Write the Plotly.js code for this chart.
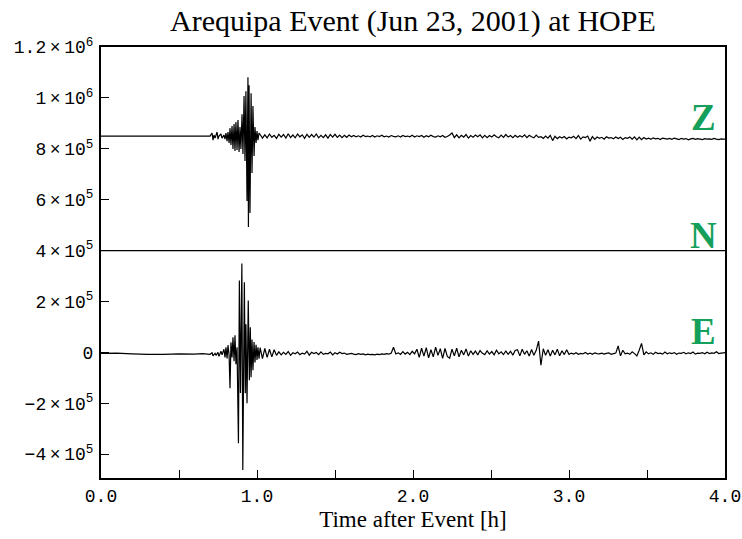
<!DOCTYPE html>
<html>
<head>
<meta charset="utf-8">
<script src="https://cdn.plot.ly/plotly-3.0.1.min.js"></script>
<style>
  html, body { margin: 0; padding: 0; background: #fff; }
  #chart { width: 742px; height: 539px; }
</style>
</head>
<body>
<div id="chart"></div>
<script>
// Three-component record, Arequipa event (Jun 23, 2001), station HOPE.
// Times in hours after the event, amplitudes in thousands of counts
// relative to each component's plotting offset.

const componentNames = ['Z', 'N', 'E'];
const componentOffsets = [850000, 400000, 0];

// Z component: quiet lead-in, then the main arrivals
const zPreT = [0, 0.35, 0.699];
const zPreV = [0, 0, 0];
const zEventT = [0.712, 0.718, 0.724, 0.731, 0.744, 0.750, 0.756, 0.769, 0.776, 0.788,
  0.795, 0.801, 0.808, 0.814, 0.821, 0.827, 0.833, 0.840, 0.846, 0.853,
  0.859, 0.865, 0.872, 0.878, 0.885, 0.891, 0.897, 0.904, 0.910, 0.917,
  0.923, 0.929, 0.936, 0.942, 0.945, 0.949, 0.955, 0.962, 0.968, 0.974,
  0.981, 0.987, 0.994, 1.000, 1.006, 1.013];
const zEventV = [12, -16, 4, -8, 16, -12, 0, 8, -8, 4,
  -12, 12, -20, 16, -27, 31, -35, 39, -51, 47,
  -59, 55, -55, 63, -63, 35, -51, 86, -71, 157,
  -98, 176, -255, 231, -357, 200, -302, 168, -145, 118,
  -78, 35, -27, 20, -16, 12];
// Z coda / background, sampled every 0.015 h from 1.02 h
const zCodaV = [
  6, -8, 5, -7, 8, -5, 3, -9, 7, -4, 6, -8, 9, -6, 4, -7, 8, -3, 5, -9,
  7, -5, 6, -4, 8, -7, 3, -6, 5, -8, 6, -4, 7, -5, 4, -6, 3, -5, 4, -3,
  2, -3, 1, -4, 3, -2, 0, -3, 2, -4, 1, -2, 3, -3, 0, -4, 2, -1, -3, 1,
  -4, 2, -2, 0, -3, 3, -4, 1, -2, 2, -5, 1, -3, 3, -2, -4, 1, -3, 2, -5,
  -2, 4, 12, -6, 5, -7, 3, -4, 6, -8, 2, -5, 4, -3, 5, -7, 3, -6, 2, -4,
  5, -3, -7, 4, -5, 6, -4, 2, -6, 3, -5, 1, -4, 5, -6, 3, -3, -7, 4, -5,
  -2, -9, 0, -8, 3, -18, -1, -10, -3, -8, -2, -11, -4, -7, -1, -10, 2, -12, -3, -6,
  0, -20, -2, -13, -4, -9, -5, -12, -3, -8, -6, -11, -4, -10, -5, -13, -6, -9, -4, -12,
  -3, -15, -4, -14, -6, -12, -8, -13, -7, -11, -9, -14, -8, -10, -12, -9, -13, -8, -11, -14,
  -9, -12, -10, -15, -11, -9, -13, -10, -12, -14, -10, -12, -11, -13, -9, -12, -14, -11, -12, -12
];

// N component: flat trace
const nT = [0, 1, 2, 3, 4];
const nV = [0, 0, 0, 0, 0];

// E component
const ePreT = [0, 0.1, 0.2, 0.3, 0.4, 0.5, 0.6, 0.65, 0.699];
const ePreV = [-4, -3, -6, -8, -8, -6, -7, -5, -8];
const eEventT = [0.712, 0.718, 0.731, 0.737, 0.750, 0.756, 0.769, 0.776, 0.788, 0.795,
  0.801, 0.808, 0.814, 0.821, 0.827, 0.833, 0.840, 0.846, 0.853, 0.859,
  0.865, 0.872, 0.881, 0.887, 0.894, 0.903, 0.909, 0.919, 0.925, 0.929,
  0.936, 0.944, 0.951, 0.957, 0.962, 0.968, 0.974, 0.981, 0.987, 0.994,
  1.000, 1.006, 1.013];
const eEventV = [-2, -14, -4, -12, 0, -16, 4, -10, 12, -20,
  20, -24, 28, -10, -141, 39, -20, 59, -35, 67,
  -47, 20, -357, 282, -160, 349, -463, 275, -161, 110,
  -200, 204, -110, 98, -98, 50, -70, 40, -40, 30,
  -30, 20, -25];
const eCodaV = [
  18, -25, 15, -20, 12, -18, 10, -12,
  2, -10, 0, -8, 3, -12, -2, -6, 1, -9, -3, -7, 4, -11, 0, -5, -1, -9, 2, -8,
  -4, -6, 1, -10, -2, -7, 0, -5, -3, -8, -6, -4, -7, -9, -5, -8, -6, -10, -7, -9,
  -8, -10, -7, -9, -6, -8, -5, -7, -4,
  20, -6,
  -2, -8, 3, -7, 0, -9, 4, -6,
  12, -20, 16, -15, 18, -22, 10, -18, 20, -12, 14, -24, 15, -16,
  -23, 12, -14, 16, -18, 8, -10, 13, -15, 6,
  -8, 5, -10, 7, -4, -9, 6, -7, 3, -10, 8, -6, 2, -9, 5, -8, 4, -11, 7,
  10, -14, 12, -8, 6, -15, 11, -12, 8,
  44, -51,
  14, -12, 10, -15, 8, -10, 12, -14, 6, -9, 10, -8,
  -3, -7, -2, -8, -4, -6, -1, -7, -3, -8, -2, -5, -6, -3, -7, -4, -2, -8, -5, -3,
  25, -14, 8, -6,
  -3, -8, 2, -5,
  -14, 8, 35,
  -10, 2, -6, -2, -8, 0, -5, -3, -7, 1, -6, -2, -5, -1, -8, -3, -4, 0, -6, -2,
  -5, 1, -7, -3, -4, -1, -6, 0, -5, -2, -4, 2, -5, -3, -2, -1
];
const codaStart = 1.02;   // h
const codaStep = 0.015;   // h per sample

// Axis ticks
const xTickVals = [0, 0.5, 1, 1.5, 2, 2.5, 3, 3.5, 4];
const xTickText = ['0.0', '', '1.0', '', '2.0', '', '3.0', '', '4.0'];
const yTickVals = [-400000, -200000, 0, 200000, 400000, 600000, 800000, 1000000, 1200000];
const TIMES = '\u2009\u00d7\u2009';
const yTickText = ['\u22124' + TIMES + '10<sup>5</sup>', '\u22122' + TIMES + '10<sup>5</sup>', '0',
  '2' + TIMES + '10<sup>5</sup>', '4' + TIMES + '10<sup>5</sup>', '6' + TIMES + '10<sup>5</sup>',
  '8' + TIMES + '10<sup>5</sup>', '1' + TIMES + '10<sup>6</sup>', '1.2' + TIMES + '10<sup>6</sup>'];

function codaTimes(values) {
  return values.map((_, i) => +(codaStart + i * codaStep).toFixed(4));
}

function buildTrace(tParts, vParts, offset) {
  const x = [].concat(...tParts);
  const y = [].concat(...vParts).map(v => offset + v * 1000);
  return {
    x: x, y: y, type: 'scatter', mode: 'lines',
    line: { color: '#000', width: 1.2, simplify: false },
    hoverinfo: 'skip', showlegend: false
  };
}

const traces = [
  buildTrace([zPreT, zEventT, codaTimes(zCodaV)], [zPreV, zEventV, zCodaV], componentOffsets[0]),
  buildTrace([nT], [nV], componentOffsets[1]),
  buildTrace([ePreT, eEventT, codaTimes(eCodaV)], [ePreV, eEventV, eCodaV], componentOffsets[2])
];

// Component letters beside each trace
const labelY = [921000, 459000, 82000];
const annotations = componentNames.map((name, k) => ({
  x: 3.865, y: labelY[k], xref: 'x', yref: 'y',
  text: '<b>' + name + '</b>', showarrow: false,
  font: { family: 'Liberation Serif, serif', size: 37, color: '#14a05a' }
}));

const tickFont = { family: 'Liberation Mono, monospace', size: 18, color: '#000' };

const layout = {
  width: 742, height: 539,
  margin: { l: 101, r: 17, t: 47, b: 61 },
  paper_bgcolor: '#fff', plot_bgcolor: '#fff',
  title: {
    text: 'Arequipa Event (Jun 23, 2001) at HOPE',
    font: { family: 'Liberation Serif, serif', size: 30, color: '#000' },
    x: 0.5565, xanchor: 'center', y: 0.962, yanchor: 'middle'
  },
  xaxis: {
    range: [0, 4], tickvals: xTickVals, ticktext: xTickText,
    ticks: 'inside', ticklen: 8, tickwidth: 1, tickcolor: '#000',
    showline: true, linewidth: 2, linecolor: '#000', mirror: true,
    showgrid: false, zeroline: false, tickfont: tickFont,
    title: { text: 'Time after Event [h]', standoff: 4,
      font: { family: 'Liberation Serif, serif', size: 23, color: '#000' } }
  },
  yaxis: {
    range: [-494000, 1200000], tickvals: yTickVals, ticktext: yTickText,
    ticks: 'inside', ticklen: 8, tickwidth: 1, tickcolor: '#000',
    showline: true, linewidth: 2, linecolor: '#000', mirror: true,
    showgrid: false, zeroline: false, tickfont: tickFont, ticklabelstandoff: 2
  },
  annotations: annotations
};

Plotly.newPlot('chart', traces, layout, { staticPlot: true, displayModeBar: false });
</script>
</body>
</html>
